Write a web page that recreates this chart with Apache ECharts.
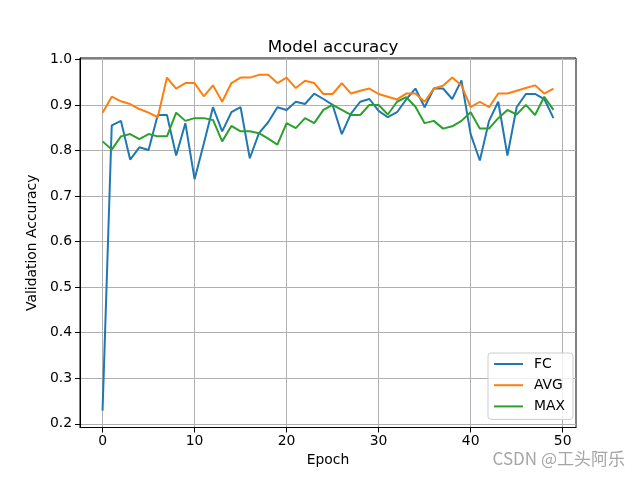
<!DOCTYPE html>
<html><head><meta charset="utf-8">
<script src="https://cdn.jsdelivr.net/npm/echarts@6/dist/echarts.min.js"></script>
<style>html,body{margin:0;padding:0;background:#fff}#c{width:640px;height:480px}</style>
</head><body><div id="c"></div>
<script>
const epochs = [0,1,2,3,4,5,6,7,8,9,10,11,12,13,14,15,16,17,18,19,20,21,22,23,24,25,26,27,28,29,30,31,32,33,34,35,36,37,38,39,40,41,42,43,44,45,46,47,48,49];
const fc = [0.229,0.855,0.865,0.780,0.807,0.801,0.878,0.878,0.789,0.860,0.737,0.815,0.895,0.842,0.884,0.895,0.783,0.838,0.862,0.895,0.889,0.907,0.902,0.925,0.913,0.900,0.836,0.881,0.907,0.913,0.887,0.873,0.884,0.912,0.936,0.895,0.936,0.936,0.913,0.954,0.836,0.778,0.865,0.907,0.789,0.895,0.924,0.924,0.913,0.871];
const avg = [0.883,0.918,0.908,0.902,0.891,0.883,0.873,0.960,0.936,0.948,0.948,0.919,0.943,0.907,0.948,0.960,0.960,0.966,0.966,0.948,0.960,0.937,0.953,0.948,0.924,0.924,0.948,0.925,0.931,0.936,0.924,0.918,0.912,0.925,0.925,0.907,0.936,0.942,0.960,0.943,0.895,0.907,0.895,0.925,0.925,0.931,0.937,0.943,0.925,0.936];
const maxv = [0.820,0.802,0.831,0.836,0.825,0.836,0.831,0.831,0.883,0.865,0.871,0.871,0.867,0.820,0.854,0.842,0.842,0.838,0.826,0.813,0.860,0.849,0.871,0.860,0.889,0.900,0.889,0.878,0.878,0.900,0.900,0.879,0.907,0.917,0.896,0.860,0.865,0.848,0.853,0.865,0.884,0.848,0.848,0.871,0.889,0.879,0.900,0.878,0.918,0.889];
const seriesNames = ['FC','AVG','MAX'];
const xTicks = [0,10,20,30,40,50];
const yTicks = [0.2,0.3,0.4,0.5,0.6,0.7,0.8,0.9,1.0];

const pairs = arr => epochs.map((e,i)=>[e, arr[i]]);
const FONT = '"DejaVu Sans", sans-serif';
const chart = echarts.init(document.getElementById('c'), null, {renderer:'canvas'});
const lineSeries = (name, arr, color) => ({
  name, type:'line', data: pairs(arr), showSymbol:false, symbol:'none',
  lineStyle:{color, width:2}, itemStyle:{color}, animation:false, z:3
});
chart.setOption({
  animation:false,
  title:{text:'Model accuracy', left:328, textAlign:'center', top:34,
    textStyle:{fontFamily:FONT, fontSize:16.7, fontWeight:'normal', color:'#000'}},
  grid:{left:80, right:64, top:58, bottom:52.5, show:true, borderColor:'#000', borderWidth:1, backgroundColor:'transparent'},
  xAxis:{type:'value', min:-2.45, max:51.45,
    name:'Epoch', nameLocation:'middle', nameGap:26,
    nameTextStyle:{fontFamily:FONT, fontSize:13.9, color:'#000'},
    axisLine:{show:true, onZero:false, lineStyle:{color:'#000', width:1}},
    axisTick:{show:true, customValues:xTicks, length:5, lineStyle:{color:'#000'}},
    axisLabel:{customValues:xTicks, margin:7, fontFamily:FONT, fontSize:13.9, color:'#000'},
    splitLine:{show:true, lineStyle:{color:'#b0b0b0', width:1}}},
  yAxis:{type:'value', min:0.192, max:1.003,
    name:'Validation Accuracy', nameLocation:'middle', nameGap:38, nameRotate:90,
    nameTextStyle:{fontFamily:FONT, fontSize:13.9, color:'#000'},
    axisLine:{show:true, onZero:false, lineStyle:{color:'#000', width:1}},
    axisTick:{show:true, customValues:yTicks, length:5, lineStyle:{color:'#000'}},
    axisLabel:{customValues:yTicks, margin:8, fontFamily:FONT, fontSize:13.9, color:'#000', formatter:v=>v.toFixed(1)},
    splitLine:{show:true, lineStyle:{color:'#b0b0b0', width:1}}},
  legend:{data:seriesNames, orient:'vertical', left:488, top:353,
    itemWidth:29, itemHeight:14, itemGap:7.2, padding:[4,8,6,5],
    itemStyle:{opacity:0},
    backgroundColor:'rgba(255,255,255,0.8)', borderColor:'#cccccc', borderWidth:1, borderRadius:3,
    textStyle:{fontFamily:FONT, fontSize:13.9, color:'#000', padding:[0,0,0,6]}},
  series:[
    lineSeries(seriesNames[0], fc, '#1f77b4'),
    lineSeries(seriesNames[1], avg, '#ff7f0e'),
    lineSeries(seriesNames[2], maxv, '#2ca02c')
  ],
  graphic:[{type:'text', right:15, top:450, z:100,
    style:{text:'CSDN @工头阿乐', fill:'#a6a6a6', font:'17px "Noto Sans CJK SC", sans-serif'}}]
});
</script></body></html>
